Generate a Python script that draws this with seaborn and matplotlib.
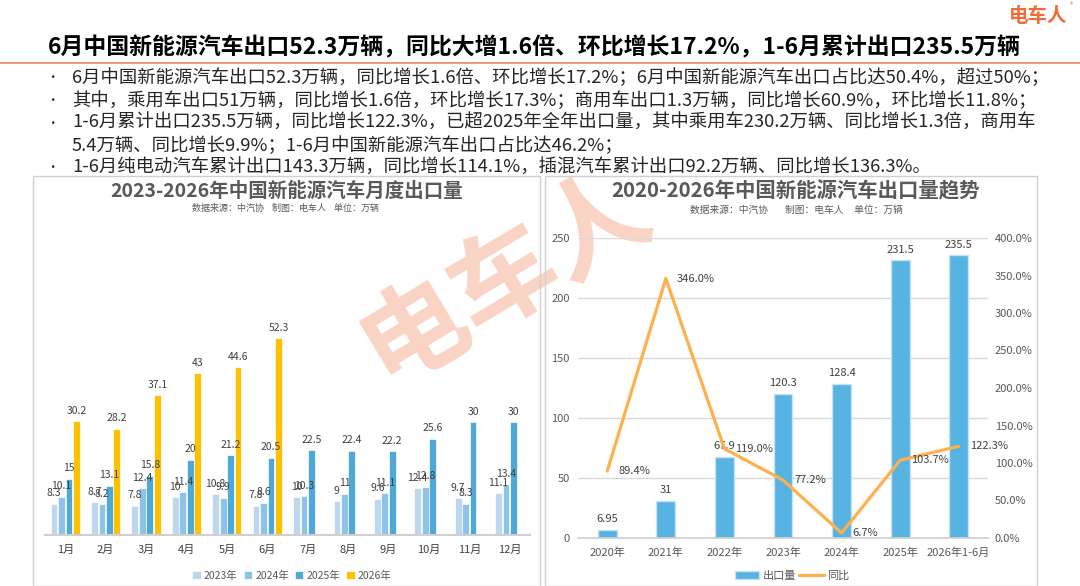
import seaborn as sns
import matplotlib.pyplot as plt
import pandas as pd
from matplotlib.patches import Rectangle
from matplotlib.lines import Line2D

# ---- data ----
months = ["1月", "2月", "3月", "4月", "5月", "6月", "7月", "8月", "9月", "10月", "11月", "12月"]
years_m = ["2023年", "2024年", "2025年", "2026年"]
v2023 = [8.3, 8.7, 7.8, 10, 10.8, 7.8, 10, 9, 9.6, 12.4, 9.7, 11.1]
v2024 = [10.1, 8.2, 12.4, 11.4, 9.9, 8.6, 10.3, 11, 11.1, 12.8, 8.3, 13.4]
v2025 = [15, 13.1, 15.8, 20, 21.2, 20.5, 22.5, 22.4, 22.2, 25.6, 30, 30]
v2026 = [30.2, 28.2, 37.1, 43, 44.6, 52.3]

years_a = ["2020年", "2021年", "2022年", "2023年", "2024年", "2025年", "2026年1-6月"]
export_a = [6.95, 31, 67.9, 120.3, 128.4, 231.5, 235.5]
yoy_a = [89.4, 346.0, 119.0, 77.2, 6.7, 103.7, 122.3]

title = "6月中国新能源汽车出口52.3万辆，同比大增1.6倍、环比增长17.2%，1-6月累计出口235.5万辆"
bullets = [
    "6月中国新能源汽车出口52.3万辆，同比增长1.6倍、环比增长17.2%；6月中国新能源汽车出口占比达50.4%，超过50%；",
    "其中，乘用车出口51万辆，同比增长1.6倍，环比增长17.3%；商用车出口1.3万辆，同比增长60.9%，环比增长11.8%；",
    "1-6月累计出口235.5万辆，同比增长122.3%，已超2025年全年出口量，其中乘用车230.2万辆、同比增长1.3倍，商用车\n5.4万辆、同比增长9.9%；1-6月中国新能源汽车出口占比达46.2%；",
    "1-6月纯电动汽车累计出口143.3万辆，同比增长114.1%，插混汽车累计出口92.2万辆、同比增长136.3%。",
]

sns.set_theme(style="white")
plt.rcParams["font.family"] = ["Noto Sans CJK SC", "DejaVu Sans"]
plt.rcParams["axes.unicode_minus"] = False

W, H = 1080, 586
fig = plt.figure(figsize=(10.8, 5.86), dpi=100)

def fx(px):
    return px / W

def fy(py):
    return 1 - py / H

# header
fig.text(fx(48), fy(48), title, fontsize=16.5, fontweight="bold", color="black", va="center")
fig.add_artist(Line2D([0, 1], [fy(63), fy(63)], color="#F2855A", lw=1.2))
fig.text(fx(1009), fy(16), "电车人", fontsize=14, fontweight="bold", color="#F26B35", va="center")
fig.text(fx(1070), fy(5), "®", fontsize=5, color="#F26B35", va="center")

y = 78
for b in bullets:
    fig.text(fx(46), fy(y), "•", fontsize=9, color="#262626", va="center")
    for line in b.split("\n"):
        fig.text(fx(72), fy(y), line, fontsize=13.2, color="#262626", va="center")
        y += 22.5

# panels
fig.add_artist(Rectangle((fx(33), 0), fx(507), fy(176), fill=False, ec="#D0D0D0", lw=1))
fig.add_artist(Rectangle((fx(545), 0), fx(492), fy(176), fill=False, ec="#D0D0D0", lw=1))

# watermark
fig.text(fx(505), fy(278), "电车人", fontsize=76, fontweight="bold", color="#F9D3C4",
         rotation=31, ha="center", va="center", zorder=-1)

# ---- left chart ----
rows_m = []
for yr, vals in zip(years_m, [v2023, v2024, v2025, v2026]):
    for m, v in zip(months, vals):
        rows_m.append({"month": m, "year": yr, "value": v})
df_m = pd.DataFrame(rows_m)

pal_m = {"2023年": "#BDD7EE", "2024年": "#8DC3E8", "2025年": "#4EA8D8", "2026年": "#FFC000"}
ax1 = fig.add_axes([fx(45), 1 - 535 / H, fx(485), 335 / H])
ax1.set_facecolor("none")
sns.barplot(data=df_m, x="month", y="value", hue="year", order=months, hue_order=years_m,
            palette=pal_m, width=0.74, gap=0.1, edgecolor="white", linewidth=0.5,
            saturation=1, ax=ax1)
for c in ax1.containers:
    ax1.bar_label(c, fmt="%g", padding=4, fontsize=7.5, color="#404040")
ax1.set_ylim(0, 89)
ax1.set_yticks([])
ax1.set_xlabel("")
ax1.set_ylabel("")
ax1.tick_params(axis="x", length=0, pad=7, labelsize=8, labelcolor="#404040")
for s in ["top", "right", "left"]:
    ax1.spines[s].set_visible(False)
ax1.spines["bottom"].set_color("#D0D0D0")
ax1.spines["bottom"].set_linewidth(1.5)
h1, l1 = ax1.get_legend_handles_labels()
ax1.get_legend().remove()
fig.legend(h1, l1, loc="center", bbox_to_anchor=(fx(292), fy(576)), ncol=4, frameon=False,
           fontsize=7.5, handlelength=0.8, handleheight=0.8, handletextpad=0.3,
           columnspacing=0.6, labelcolor="#595959")

fig.text(fx(287), fy(191), "2023-2026年中国新能源汽车月度出口量", fontsize=14, fontweight="bold",
         color="#595959", ha="center", va="center")
fig.text(fx(286), fy(208), "数据来源：中汽协    制图：电车人    单位：万辆", fontsize=6.5,
         color="#595959", ha="center", va="center")

# ---- right chart ----
ax2 = fig.add_axes([fx(578), 1 - 538 / H, fx(410), 300 / H])
ax2.set_facecolor("none")
sns.barplot(x=years_a, y=export_a, color="#56B3E2", width=0.32, saturation=1,
            edgecolor="#C6E2F3", linewidth=1, ax=ax2, zorder=2)
ax2.bar_label(ax2.containers[0], fmt="%g", padding=4, fontsize=8, color="#404040")
ax2.set_ylim(0, 250)
ax2.set_yticks(range(0, 251, 50))
ax2.grid(axis="y", color="#D9D9D9", lw=1, zorder=0)
ax2.set_axisbelow(True)
ax2.tick_params(axis="both", length=0, labelsize=8, labelcolor="#595959")
ax2.tick_params(axis="x", pad=7)
ax2.tick_params(axis="y", pad=6)
for s in ["top", "right", "left"]:
    ax2.spines[s].set_visible(False)
ax2.spines["bottom"].set_color("#D0D0D0")

ax3 = ax2.twinx()
sns.pointplot(x=years_a, y=yoy_a, color="#FDB04B", markers="", linewidth=2.3, ax=ax3)
ax3.set_ylim(0, 400)
ax3.set_yticks(range(0, 401, 50))
ax3.set_yticklabels([f"{t:.1f}%" for t in range(0, 401, 50)])
ax3.tick_params(axis="y", length=0, labelsize=8, labelcolor="#595959", pad=5)
for s in ["top", "right", "left", "bottom"]:
    ax3.spines[s].set_visible(False)
for i, v in enumerate(yoy_a):
    ax3.annotate(f"{v:.1f}%", (i, v), xytext=(8, 0), textcoords="offset points",
                 fontsize=8, color="#404040", va="center", ha="left")

fig.text(fx(796), fy(191), "2020-2026年中国新能源汽车出口量趋势", fontsize=14.7, fontweight="bold",
         color="#595959", ha="center", va="center")
fig.text(fx(796), fy(210), "数据来源：中汽协        制图：电车人     单位：万辆", fontsize=7,
         color="#595959", ha="center", va="center")
fig.legend([ax2.containers[0], ax3.lines[0]], ["出口量", "同比"], loc="center",
           bbox_to_anchor=(fx(792), fy(576)), ncol=2, frameon=False, fontsize=8,
           handlelength=2.2, handletextpad=0.3, columnspacing=0.3, labelcolor="#595959")

fig.savefig("out.png", dpi=100)
